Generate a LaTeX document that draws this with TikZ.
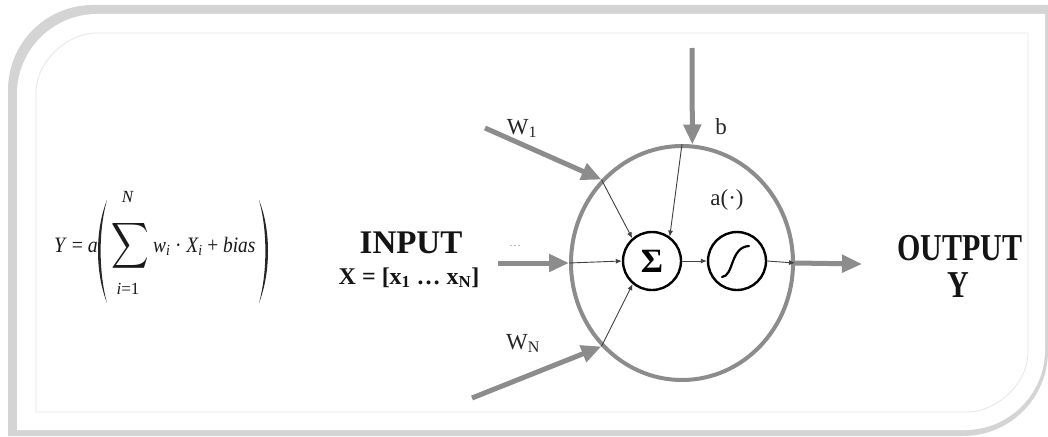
\documentclass[tikz,border=0pt]{standalone}
\usepackage{fontspec}
\setmainfont{Liberation Serif}
\usetikzlibrary{arrows.meta,shapes.geometric}
\definecolor{fatgray}{HTML}{8C8C8C}
\definecolor{shadowc}{HTML}{D4D4D4}
\definecolor{innerc}{HTML}{E6E6E6}
\begin{document}
\begin{tikzpicture}[x=1pt,y=-1pt,
  fat/.style={draw=fatgray,line width=5pt,-{Triangle[length=20pt,width=17pt]}},
  fine/.style={draw=black!75,line width=0.9pt,-{Latex[length=6pt,width=5pt]}},
  unit/.style={circle,draw=black,line width=2.4pt,minimum size=58pt,inner sep=0pt},
  lbl/.style={font=\fontsize{23}{26}\selectfont,text=black!85,inner sep=0pt},
  frm/.style={font=\fontsize{22}{24}\selectfont,text=black!90,inner sep=0pt},
  lim/.style={font=\fontsize{17}{18}\selectfont,text=black!90,inner sep=0pt},
  big/.style={font=\bfseries,text=black!92,inner sep=0pt},
  ]
\useasboundingbox (0,0) rectangle (1048,436);
% card with shadow
\fill[shadowc] (8,90) .. controls (8,43) and (46,5) .. (93,5) -- (1048,5) -- (1048,351) .. controls (1048,398) and (1010,436) .. (963,436) -- (8,436) -- cycle;
\fill[white] (17,94) .. controls (17,50) and (53,14) .. (97,14) -- (1045,14) -- (1045,350) .. controls (1045,394) and (1009,430) .. (965,430) -- (17,430) -- cycle;
\draw[innerc,line width=0.8pt] (36,93) .. controls (36,60) and (69,33) .. (96,33) -- (1028,33) -- (1028,352) .. controls (1028,385) and (995,412) .. (968,412) -- (36,412) -- cycle;

% formula
\node[frm,anchor=base east] (fy) at (98,252) {\scalebox{0.9}[1]{\textit{Y} = \textit{a}}};
\fill[black!85] (107,200) .. controls (95,230) and (95,272) .. (107,303) .. controls (98.5,272) and (98.5,230) .. (107,200) -- cycle;
\node[inner sep=0pt,text=black!90] (fsum) at (130,248) {\raisebox{0pt}[0.7\height][0.7\depth]{\scalebox{2.6}[3.2]{$\displaystyle\sum$}}};
\node[lim] (fN) at (128,197) {\textit{N}};
\node[lim] (fi) at (128,289) {\textit{i}=1};
\node[frm,anchor=base west] (fterm) at (153,252) {\scalebox{0.88}[1]{\textit{w\textsubscript{i}} · \textit{X\textsubscript{i}} + \textit{bias}}};
\fill[black!85] (259,200) .. controls (271,230) and (271,272) .. (259,303) .. controls (267.5,272) and (267.5,230) .. (259,200) -- cycle;

% input text
\node[big,anchor=base] (inp) at (411,253) {\fontsize{33}{36}\selectfont INPUT};
\node[big,anchor=base] (xvec) at (409,284) {\fontsize{24}{28}\selectfont X = [x\textsubscript{1} … x\textsubscript{N}]};

% neuron
\node[ellipse,draw=fatgray,line width=4pt,minimum width=222pt,minimum height=234pt,inner sep=0pt] (cell) at (682,263) {};
\node[unit] (sum) at (652,261) {\fontsize{34}{34}\selectfont\bfseries Σ};
\node[unit] (act) at (737,261) {};
\draw[line width=2.2pt,line cap=round] (722,277) .. controls (734,276) and (730,247) .. (749,246);

\coordinate (w1s) at (485,128);
\coordinate (wns) at (472,398);
\coordinate (bs) at (692,48);
\coordinate (ms) at (498,263);
\coordinate (oe) at (862,264);

\draw[fat] (w1s) -- (cell.134);
\draw[fat] (wns) -- (cell.226);
\draw[fat] (bs) -- (cell.85);
\draw[fat] (ms) -- (cell.180);
\draw[fat,shorten <=-2pt] (cell.0) -- (oe);

\draw[fine] (cell.134) -- (sum.131);
\draw[fine] (cell.90) -- (sum.54);
\draw[fine] (cell.180) -- (sum.180);
\draw[fine] (cell.226) -- (sum.230);
\draw[fine] (sum.east) -- (act.west);
\draw[fine] (act.east) -- (cell.0);

% labels
\node[lbl,anchor=base] (lw1) at (522,134) {W\textsubscript{1}};
\node[lbl,anchor=base] (lb) at (721,134) {b};
\node[lbl,anchor=base] (lwn) at (523,349) {W\textsubscript{N}};
\node[lbl,anchor=base] (la) at (727,205) {a(·)};
\node[inner sep=0pt,text=black!40,font=\fontsize{12}{12}\selectfont] (dots) at (515,246) {…};

% output
\node[big,anchor=base] (outp) at (960,260) {\fontsize{38}{40}\selectfont\scalebox{0.79}[1]{OUTPUT}};
\node[big,anchor=base] (outy) at (958,297) {\fontsize{38}{40}\selectfont\scalebox{0.79}[1]{Y}};
\end{tikzpicture}
\end{document}
